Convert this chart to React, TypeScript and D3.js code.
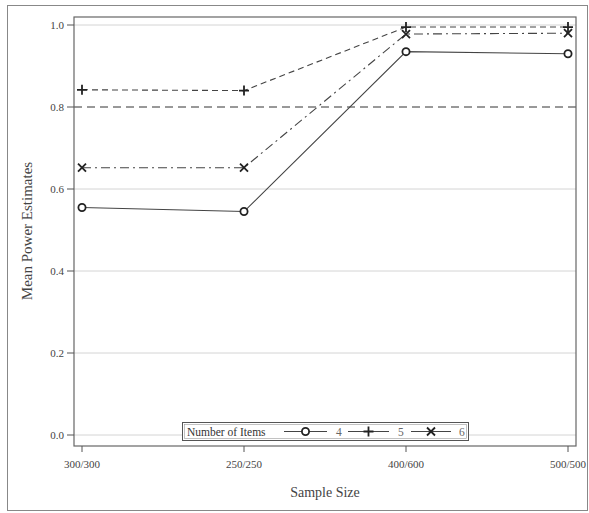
import React from "react";
import * as d3 from "d3";

const sampleSizes = ["300/300", "250/250", "400/600", "500/500"];
const items4 = [0.555, 0.545, 0.935, 0.93];
const items5 = [0.842, 0.84, 0.995, 0.995];
const items6 = [0.652, 0.652, 0.978, 0.98];
const yTicks = [0.0, 0.2, 0.4, 0.6, 0.8, 1.0];
const powerTarget = 0.8;

const W = 589;
const H = 513;
const plot = { left: 74, top: 17, right: 576, bottom: 446 };
const FONT = "'Liberation Serif', 'DejaVu Serif', serif";

type Series = { name: string; values: number[]; dash: string; marker: "circle" | "plus" | "cross" };
const series: Series[] = [
  { name: "4", values: items4, dash: "none", marker: "circle" },
  { name: "5", values: items5, dash: "6,4", marker: "plus" },
  { name: "6", values: items6, dash: "9,4,2,4", marker: "cross" },
];

function Marker({ kind, x, y }: { kind: Series["marker"]; x: number; y: number }) {
  if (kind === "circle")
    return <circle cx={x} cy={y} r={3.6} fill="white" stroke="#222" strokeWidth={1.8} />;
  if (kind === "plus")
    return (
      <path
        d={`M${x - 5},${y}H${x + 5}M${x},${y - 5}V${y + 5}`}
        stroke="#222"
        strokeWidth={1.8}
      />
    );
  return (
    <path
      d={`M${x - 4},${y - 4}L${x + 4},${y + 4}M${x - 4},${y + 4}L${x + 4},${y - 4}`}
      stroke="#222"
      strokeWidth={1.8}
    />
  );
}

export default function App() {
  const x = d3.scalePoint<string>().domain(sampleSizes).range([82, 568]);
  const y = d3.scaleLinear().domain([0, 1]).range([435, 25]);
  const line = d3
    .line<number>()
    .x((_, i) => x(sampleSizes[i]) as number)
    .y((d) => y(d));

  const legendY = 431.5;
  const legendEntries = [
    { s: series[0], x0: 284, x1: 327, label: 336 },
    { s: series[1], x0: 348, x1: 389, label: 398 },
    { s: series[2], x0: 411, x1: 451, label: 459 },
  ];

  return (
    <svg
      width={W}
      height={H}
      style={{ position: "absolute", left: 0, top: 0, background: "white" }}
      fontFamily={FONT}
    >
      <rect x={7.5} y={5.5} width={580} height={505} fill="white" stroke="#888" strokeWidth={1} />

      {/* gridlines */}
      {yTicks
        .filter((t) => t !== powerTarget)
        .map((t) => (
          <line
            key={"g" + t}
            x1={plot.left}
            x2={plot.right}
            y1={y(t)}
            y2={y(t)}
            stroke="#d4d4d4"
            strokeWidth={1}
          />
        ))}

      {/* 0.8 power reference */}
      <line
        x1={plot.left}
        x2={plot.right}
        y1={y(powerTarget)}
        y2={y(powerTarget)}
        stroke="#333"
        strokeWidth={1}
        strokeDasharray="8,5"
      />

      {/* series */}
      {series.map((s) => (
        <g key={s.name}>
          <path
            d={line(s.values) || ""}
            fill="none"
            stroke="#444"
            strokeWidth={1.1}
            strokeDasharray={s.dash}
          />
          {s.values.map((v, i) => (
            <Marker key={i} kind={s.marker} x={x(sampleSizes[i]) as number} y={y(v)} />
          ))}
        </g>
      ))}

      {/* plot frame */}
      <rect
        x={plot.left}
        y={plot.top}
        width={plot.right - plot.left}
        height={plot.bottom - plot.top}
        fill="none"
        stroke="#666"
        strokeWidth={1.2}
      />

      {/* y axis */}
      {yTicks.map((t) => (
        <g key={"y" + t}>
          <line x1={plot.left - 7} x2={plot.left} y1={y(t)} y2={y(t)} stroke="#555" />
          <text
            x={plot.left - 10}
            y={y(t)}
            dy="0.35em"
            textAnchor="end"
            fontSize={11}
            fill="#444"
          >
            {t.toFixed(1)}
          </text>
        </g>
      ))}
      <text
        transform={`translate(32,${231}) rotate(-90)`}
        textAnchor="middle"
        fontSize={15}
        fill="#444"
      >
        Mean Power Estimates
      </text>

      {/* x axis */}
      {sampleSizes.map((c) => (
        <g key={c}>
          <line
            x1={x(c) as number}
            x2={x(c) as number}
            y1={plot.bottom}
            y2={plot.bottom + 6}
            stroke="#555"
          />
          <text
            x={x(c) as number}
            y={plot.bottom + 22}
            textAnchor="middle"
            fontSize={11}
            fill="#444"
          >
            {c}
          </text>
        </g>
      ))}
      <text x={325} y={497} textAnchor="middle" fontSize={14} fill="#444">
        Sample Size
      </text>

      {/* legend */}
      <rect x={182.5} y={422.5} width={286} height={18} fill="white" stroke="#555" strokeWidth={1} />
      <rect x={184.5} y={424.5} width={282} height={14} fill="none" stroke="#999" strokeWidth={0.6} />
      <text x={187} y={legendY} dy="0.35em" fontSize={11.5} fill="#333">
        Number of Items
      </text>
      {legendEntries.map((e) => (
        <g key={e.s.name}>
          <line x1={e.x0} x2={e.x1} y1={legendY} y2={legendY} stroke="#444" strokeWidth={1.1} />
          <Marker kind={e.s.marker} x={(e.x0 + e.x1) / 2} y={legendY} />
          <text x={e.label} y={legendY} dy="0.35em" fontSize={11.5} fill="#666">
            {e.s.name}
          </text>
        </g>
      ))}
    </svg>
  );
}
